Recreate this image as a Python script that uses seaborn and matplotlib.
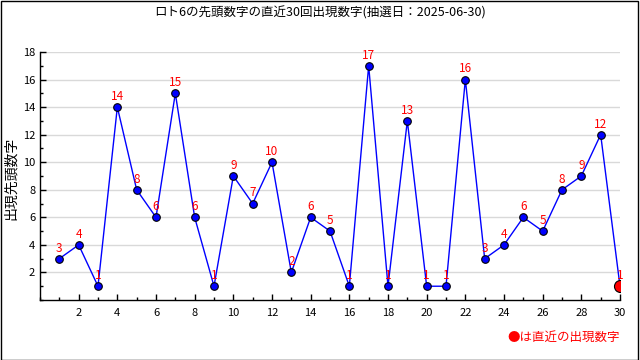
import matplotlib
matplotlib.use("Agg")
import matplotlib.pyplot as plt
import seaborn as sns
import pandas as pd
from matplotlib.patches import Rectangle
from matplotlib.ticker import MultipleLocator

draws = list(range(1, 31))
values = [3, 4, 1, 14, 8, 6, 15, 6, 1, 9, 7, 10, 2, 6, 5, 1, 17, 1, 13, 1,
          1, 16, 3, 4, 6, 5, 8, 9, 12, 1]
title = "ロト6の先頭数字の直近30回出現数字(抽選日：2025-06-30)"
ylabel = "出現先頭数字"
note = "●は直近の出現数字"

sns.set_theme(style="white")
plt.rcParams['font.family'] = ['Noto Sans CJK JP', 'DejaVu Sans']

df = pd.DataFrame({"draw": draws, "value": values})

fig = plt.figure(figsize=(6.4, 3.6), dpi=100)
ax = fig.add_axes([40/640, 60/360, 580/640, 248/360])

sns.lineplot(data=df, x="draw", y="value", ax=ax, color="#0000ff", linewidth=1)
sns.scatterplot(data=df.iloc[:-1], x="draw", y="value", ax=ax, color="#0000ff",
                edgecolor="black", s=30, linewidth=0.8, zorder=3)
sns.scatterplot(data=df.iloc[-1:], x="draw", y="value", ax=ax, color="#ff0000",
                edgecolor="black", s=75, linewidth=0.8, zorder=4)

for x, y in zip(draws, values):
    ax.annotate(str(y), (x, y), xytext=(0, 3), textcoords="offset points",
                ha="center", va="bottom", color="#ff0000", fontsize=8.5)

ax.set_xlim(0, 30)
ax.set_ylim(0, 18)
ax.xaxis.set_minor_locator(MultipleLocator(1))
ax.yaxis.set_minor_locator(MultipleLocator(1))
ax.set_xticks(range(2, 31, 2))
ax.set_yticks(range(2, 19, 2))
ax.tick_params(axis="both", which="major", direction="in", length=4, width=1,
               color="black", labelsize=8, labelcolor="black", left=True, bottom=True)
ax.tick_params(axis="both", which="minor", direction="in", length=2.5, width=1,
               color="black", left=True, bottom=True)
ax.tick_params(axis="x", pad=6)
ax.grid(axis="y", which="major", color="#d9d9d9", linewidth=1)
ax.set_axisbelow(True)
for s in ["top", "right"]:
    ax.spines[s].set_visible(False)
for s in ["left", "bottom"]:
    ax.spines[s].set_color("black")
    ax.spines[s].set_linewidth(1)
ax.set_xlabel("")
ax.set_ylabel("")

fig.text(11/640, 1 - 178/360, ylabel, ha="center", va="center", rotation=90,
         fontsize=10, color="black")
fig.text(0.5, 1 - 13/360, title, ha="center", va="center", fontsize=9, color="black")
fig.text(620/640, 1 - 337/360, note, ha="right", va="center", fontsize=9, color="#ff0000")

fig.add_artist(Rectangle((0.5/640, 0.5/360), 1 - 2.5/640, 1 - 1.5/360, transform=fig.transFigure,
                         fill=False, edgecolor="black", linewidth=1))

fig.savefig("out.png", dpi=100)
